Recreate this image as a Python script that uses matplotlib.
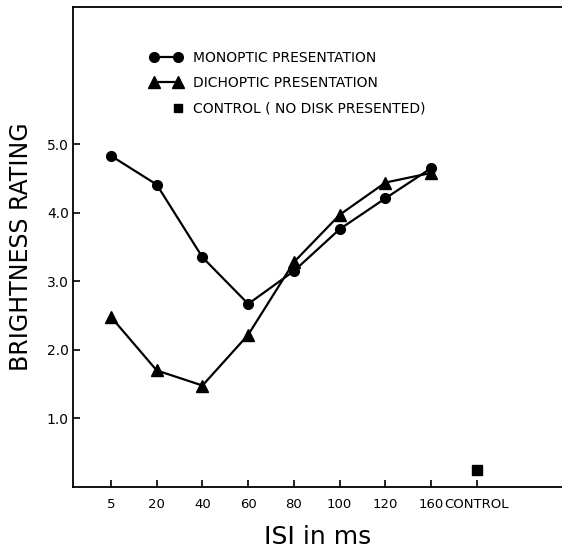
import matplotlib
matplotlib.use("Agg")
import matplotlib.pyplot as plt
from matplotlib.lines import Line2D
from matplotlib.legend_handler import HandlerLine2D
import numpy as np

categories = ["5", "20", "40", "60", "80", "100", "120", "160", "CONTROL"]
monoptic = [4.83, 4.41, 3.35, 2.67, 3.15, 3.76, 4.21, 4.65]
dichoptic = [2.48, 1.70, 1.48, 2.22, 3.28, 3.97, 4.44, 4.58]
control = [0.25]
yticks = [1.0, 2.0, 3.0, 4.0, 5.0]
yticklabels = ["1.0", "2.0", "3.0", "4.0", "5.0"]


class RightPointHandler(HandlerLine2D):
    def get_xdata(self, legend, xdescent, ydescent, width, height, fontsize):
        pad = self._marker_pad * fontsize
        x = np.array([width - pad])
        return x, x


fig = plt.figure(figsize=(5.62, 5.49), dpi=100)
ax = fig.add_axes([73/562, 62/549, 489/562, 480/549])

xs = list(range(len(monoptic)))
ax.plot(xs, monoptic, color="black", lw=1.6, marker="o", ms=7)
ax.plot(xs, dichoptic, color="black", lw=1.6, marker="^", ms=8)
ax.plot([len(categories) - 1], control, ls="none", color="black", marker="s", ms=7)

ax.set_xlim(-0.83, 9.86)
ax.set_ylim(0, 7.0)
ax.set_xticks(range(len(categories)))
ax.set_xticklabels(categories, fontsize=9.5)
ax.set_yticks(yticks)
ax.set_yticklabels(yticklabels, fontsize=10)
ax.tick_params(axis="both", direction="in", length=5, width=1.2)
ax.tick_params(axis="x", pad=8)
ax.tick_params(axis="y", pad=3)
ax.spines["right"].set_visible(False)
for s in ["left", "bottom", "top"]:
    ax.spines[s].set_linewidth(1.3)

ax.set_ylabel("BRIGHTNESS RATING", fontsize=17, labelpad=10)
ax.set_xlabel("ISI in ms", fontsize=18, labelpad=10)

h1 = Line2D([], [], color="black", lw=1.6, marker="o", ms=7)
h2 = Line2D([], [], color="black", lw=1.6, marker="^", ms=8)
h3 = Line2D([], [], color="black", ls="none", marker="s", ms=6)
ax.legend([h1, h2, h3],
          ["MONOPTIC PRESENTATION", "DICHOPTIC PRESENTATION", "CONTROL ( NO DISK PRESENTED)"],
          handler_map={h3: RightPointHandler(numpoints=2)},
          loc="upper left", bbox_to_anchor=(0.157, 0.908), frameon=False,
          numpoints=2, handlelength=2.3, handletextpad=0.8, borderpad=0,
          borderaxespad=0, labelspacing=0.8, fontsize=10)

fig.savefig("out.png", dpi=100)
